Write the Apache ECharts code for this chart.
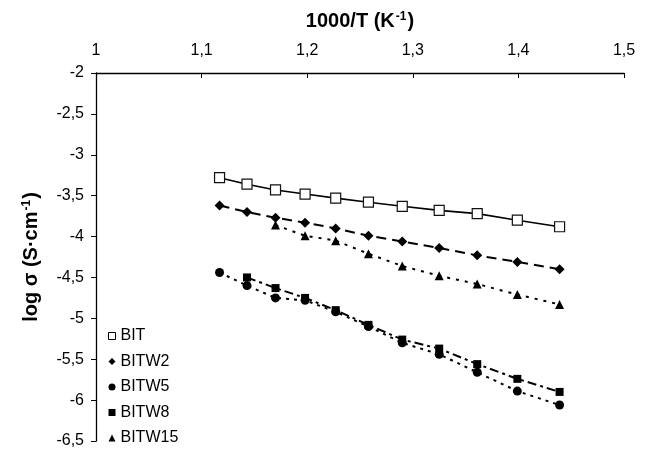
<!DOCTYPE html>
<html><head><meta charset="utf-8">
<script src="https://cdn.jsdelivr.net/npm/echarts@6/dist/echarts.min.js"></script>
<style>html,body{margin:0;padding:0;background:#fff}#c{width:646px;height:449px}</style>
</head><body><div id="c"></div>
<script>
const xVals = [1.117, 1.143, 1.170, 1.198, 1.227, 1.258, 1.290, 1.325, 1.361, 1.399, 1.439];
const BIT    = [-3.28, -3.36, -3.43, -3.48, -3.53, -3.58, -3.63, -3.68, -3.72, -3.80, -3.88];
const BITW2  = [-3.62, -3.70, -3.77, -3.83, -3.90, -3.99, -4.06, -4.14, -4.23, -4.31, -4.40];
const BITW5  = [-4.44, -4.60, -4.75, -4.78, -4.92, -5.10, -5.30, -5.44, -5.66, -5.89, -6.06];
const BITW8  = [null, -4.50, -4.63, -4.75, -4.90, -5.08, -5.26, -5.37, -5.56, -5.74, -5.90];
const BITW15 = [null, null, -3.86, -3.99, -4.05, -4.21, -4.36, -4.48, -4.58, -4.71, -4.83];
const seriesNames = ['BIT', 'BITW2', 'BITW5', 'BITW8', 'BITW15'];

function pairs(ys) { return xVals.map((x, i) => ys[i] == null ? null : [x, ys[i]]).filter(p => p); }
const fmt = v => String(Math.round(v * 10) / 10).replace('.', ',');
const font = 'Liberation Sans, Arial, sans-serif';
const titleRich = {
  a: { fontFamily: font, fontWeight: 'bold', fontSize: 20, color: '#000' },
  s: { fontFamily: font, fontWeight: 'bold', fontSize: 12, color: '#000', verticalAlign: 'top', padding: [0, 1, 9, 1] }
};

const chart = echarts.init(document.getElementById('c'));
chart.setOption({
  animation: false,
  grid: { left: 96, right: 22, top: 73, bottom: 7, containLabel: false },
  xAxis: {
    type: 'value', position: 'top', min: 1, max: 1.5, interval: 0.1,
    name: '{a|1000/T (K}{s|-1}{a|)}', nameLocation: 'middle', nameGap: 41,
    nameTextStyle: { rich: titleRich },
    axisLine: { onZero: false, lineStyle: { color: '#000', width: 1.3 } },
    axisTick: { show: true, inside: true, length: 5, lineStyle: { color: '#000' } },
    axisLabel: { formatter: fmt, fontFamily: font, fontSize: 16, color: '#000', margin: 14 },
    splitLine: { show: false }
  },
  yAxis: {
    type: 'value', min: -6.5, max: -2, interval: 0.5,
    name: '{a|log σ (S·cm}{s|-1}{a|)}', nameLocation: 'middle', nameGap: 54, nameRotate: 90,
    nameTextStyle: { rich: titleRich },
    axisLine: { onZero: false, lineStyle: { color: '#000', width: 1.3 } },
    axisTick: { show: true, length: 5, lineStyle: { color: '#000' } },
    axisLabel: { formatter: fmt, fontFamily: font, fontSize: 16, color: '#000', margin: 12 },
    splitLine: { show: false }
  },
  legend: {
    orient: 'vertical', left: 108, top: 328, padding: 0, itemGap: 9.5, itemWidth: 7, itemHeight: 7,
    height: 120,
    textStyle: { fontFamily: font, fontSize: 16, color: '#000' },
    data: [
      { name: 'BIT', icon: 'rect', itemStyle: { color: '#fff', borderColor: '#000', borderWidth: 1 } },
      { name: 'BITW2', icon: 'diamond', itemStyle: { color: '#000' } },
      { name: 'BITW5', icon: 'circle', itemStyle: { color: '#000' } },
      { name: 'BITW8', icon: 'rect', itemStyle: { color: '#000' } },
      { name: 'BITW15', icon: 'triangle', itemStyle: { color: '#000' } }
    ]
  },
  series: [
    { name: seriesNames[0], type: 'line', data: pairs(BIT), symbol: 'rect', symbolSize: 10,
      itemStyle: { color: '#fff', borderColor: '#111', borderWidth: 1.2 },
      lineStyle: { color: '#000', width: 1.6, type: 'solid' }, z: 2 },
    { name: seriesNames[1], type: 'line', data: pairs(BITW2), symbol: 'diamond', symbolSize: 10,
      itemStyle: { color: '#000' }, lineStyle: { color: '#000', width: 2, type: [10, 6] } },
    { name: seriesNames[2], type: 'line', data: pairs(BITW5), symbol: 'circle', symbolSize: 9,
      itemStyle: { color: '#000' }, lineStyle: { color: '#000', width: 2, type: [3, 5] } },
    { name: seriesNames[3], type: 'line', data: pairs(BITW8), symbol: 'rect', symbolSize: 8,
      itemStyle: { color: '#000' }, lineStyle: { color: '#000', width: 2, type: [9, 4, 3, 4] } },
    { name: seriesNames[4], type: 'line', data: pairs(BITW15), symbol: 'triangle', symbolSize: 9,
      itemStyle: { color: '#000' }, lineStyle: { color: '#000', width: 2, type: [3, 6] } }
  ]
});
</script></body></html>
